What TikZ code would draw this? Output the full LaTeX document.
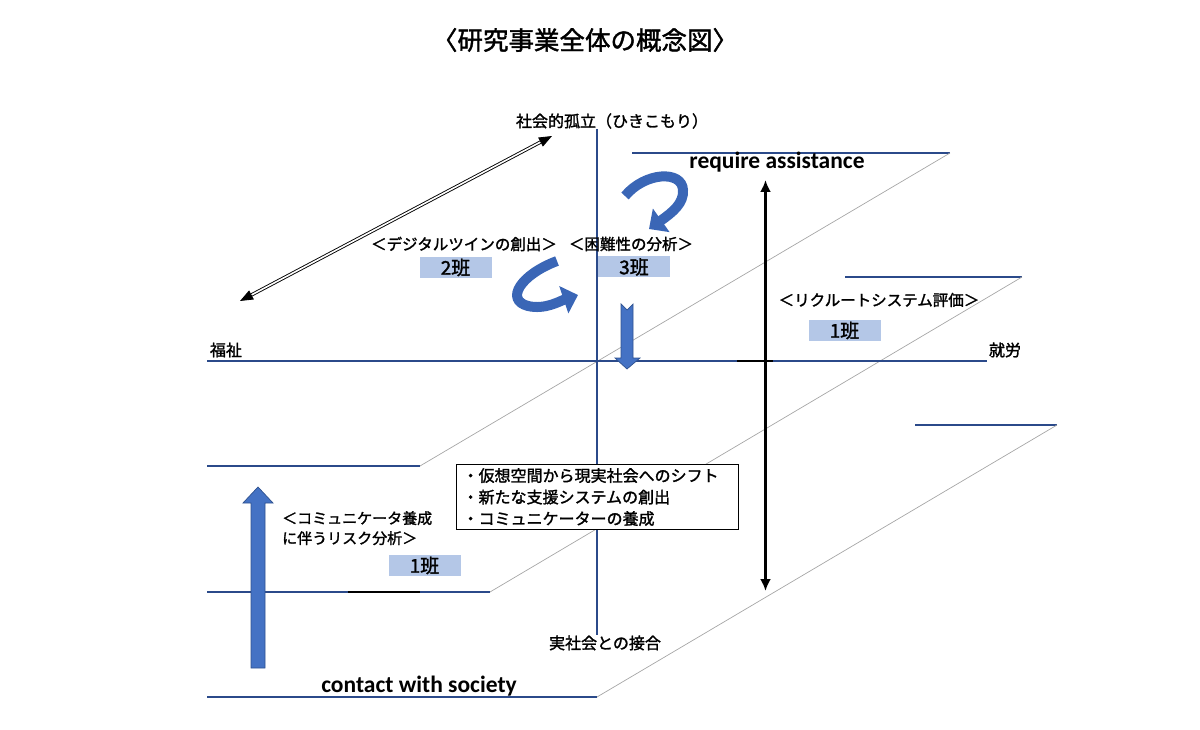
\documentclass[tikz,border=0pt]{standalone}
\usepackage{fontspec}
\setmainfont{Noto Sans CJK JP}[FakeBold=1.6]
\newfontfamily\calibrifont{Carlito}
\usetikzlibrary{arrows.meta}
\definecolor{axisblue}{HTML}{2B4A8A}
\definecolor{slantgrey}{HTML}{A6A6A6}
\definecolor{teamfill}{HTML}{B4C7E7}
\definecolor{arrowblue}{HTML}{4472C4}
\definecolor{arrowedge}{HTML}{2F528F}
\definecolor{turnblue}{HTML}{3A66B6}
\tikzset{every node/.style={font=\fontsize{15.5}{19}\selectfont,inner sep=0pt},
  axisline/.style={draw=axisblue,line width=1.6pt},
  slant/.style={draw=slantgrey,line width=0.7pt},
  team/.style={fill=teamfill,minimum width=72pt,minimum height=21pt,
    font=\fontsize{19}{22}\selectfont},
  axislabel/.style={font=\fontsize{16}{19}\selectfont},
  engtitle/.style={font=\calibrifont\bfseries\fontsize{23.5}{27}\selectfont},
  blockarrow/.style={fill=arrowblue,draw=arrowedge,line width=0.7pt},
  turnarrow/.style={draw=turnblue,line width=10pt,-{Triangle[length=15pt,width=28pt]}},
  bothways/.style={draw=black,line width=2.4pt,
    {Latex[length=12pt,width=11pt]}-{Latex[length=12pt,width=11pt]}},
  hollowways/.style={draw=black,double=white,line width=0.9pt,double distance=1.6pt,
    {Triangle[length=13pt,width=10pt]}-{Triangle[length=13pt,width=10pt]}}}

\begin{document}
\begin{tikzpicture}[x=1pt,y=-1pt]
  \path[use as bounding box] (0,0) rectangle (1200,730);
  \node[font=\fontsize{25.5}{30}\selectfont] (title) at (585,40) {〈研究事業全体の概念図〉};
  \node[axislabel] (isolation) at (612,121) {社会的孤立（ひきこもり）};
  \node[axislabel] (contact) at (605,643) {実社会との接合};
  \node[axislabel] (welfare) at (226,350) {福祉};
  \node[axislabel] (work) at (1005,350) {就労};
  \coordinate (origin) at (597,361);
  \coordinate (wleft) at (207,361);
  \coordinate (wright) at (987,361);
  \draw[axisline] (632,153) -- (950,153);
  \draw[slant] (950,153) -- (420,466);
  \draw[axisline] (420,466) -- (207,466);
  \draw[axisline] (845,277) -- (1022,277);
  \draw[slant] (1022,277) -- (490,592);
  \draw[axisline] (490,592) -- (207,592);
  \draw[axisline] (915,425) -- (1057,425);
  \draw[slant] (1057,425) -- (597,697);
  \draw[axisline] (597,697) -- (207,697);
  \draw[axisline] (isolation.south -| origin) -- (contact.north -| origin);
  \draw[axisline] (wleft) -- (wright);
  \draw[black,line width=1.6pt] (737,361) -- (773,361);
  \draw[black,line width=1.6pt] (348,592) -- (420,592);
  \node[draw=black,line width=1.2pt,fill=white,anchor=north west,text width=270pt,
    align=left,minimum height=65pt,inner xsep=6pt,font=\fontsize{16}{21.5}\selectfont]
    (summary) at (456,464)
    {・仮想空間から現実社会へのシフト\\・新たな支援システムの創出\\・コミュニケーターの養成};
  \node[engtitle] (assist) at (777,162) {require assistance};
  \node[engtitle] (society) at (419,686) {contact with society};
  \node (twinlabel) at (464,244) {＜デジタルツインの創出＞};
  \node[team] (team2) at (455.5,267.5) {2班};
  \node (hardlabel) at (631,244) {＜困難性の分析＞};
  \node[team] (team3) at (634,267) {3班};
  \node (recruitlabel) at (879,300) {＜リクルートシステム評価＞};
  \node[team] (team1r) at (844.5,330.5) {1班};
  \node[align=left,anchor=north west,font=\fontsize{15}{20}\selectfont] (risklabel)
    at (282,511) {＜コミュニケータ養成\\に伴うリスク分析＞};
  \node[team] (team1l) at (424.5,565.5) {1班};
  \coordinate (needtop) at (765.5,180);
  \coordinate (needbot) at (765.5,591);
  \draw[bothways] (needbot) -- (needtop);
  \coordinate (isoend) at (552,136);
  \coordinate (welend) at (240,301);
  \draw[hollowways] (welend) -- (isoend);
  \draw[blockarrow] (621,304) -- (627,310) -- (633,304) -- (633,358) -- (640,358)
    -- (627,369) -- (615,358) -- (621,358) -- cycle;
  \draw[blockarrow] (251,668) -- (251,503) -- (243,503) -- (258,487) -- (273,503)
    -- (265,503) -- (265,668) -- cycle;
  \draw[turnarrow] (625,196) .. controls (645,172) and (682,170) .. (683,190)
    .. controls (684,203) and (673,212) .. (649,229);
  \draw[turnarrow] (557,261) .. controls (520,275) and (505,300) .. (528,306)
    .. controls (545,310) and (560,301) .. (578,295);
\end{tikzpicture}
\end{document}
